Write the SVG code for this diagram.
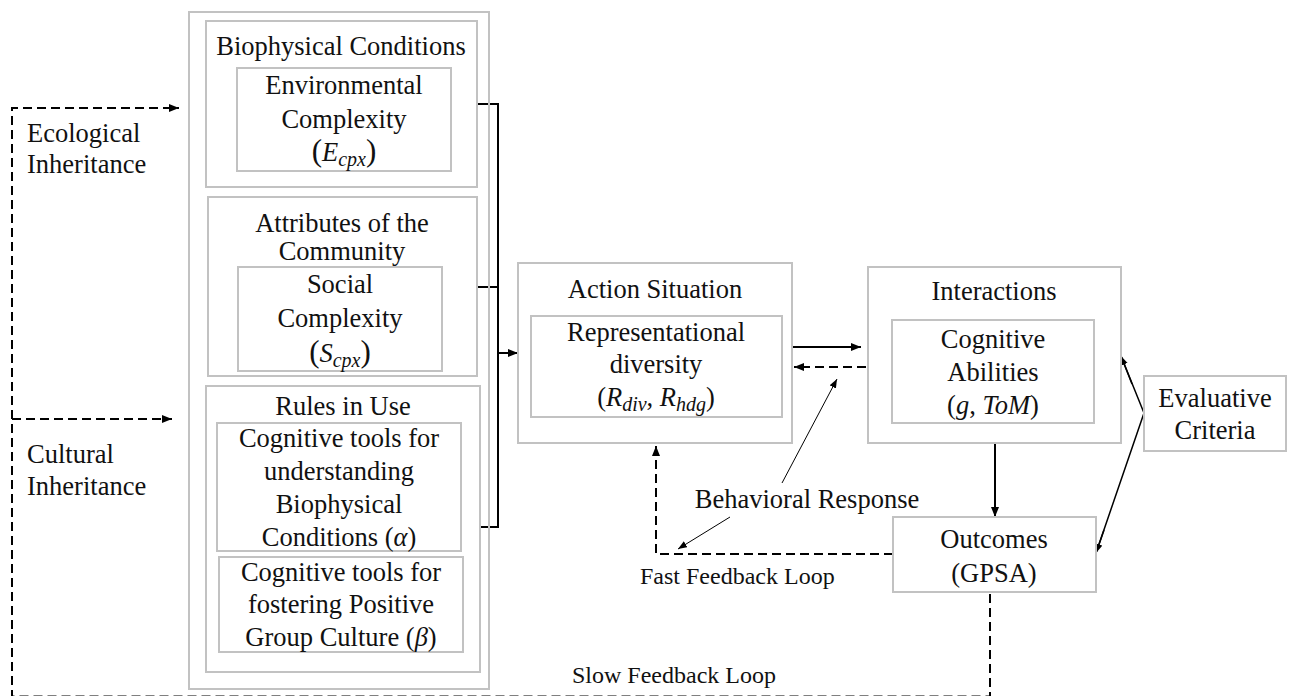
<svg xmlns="http://www.w3.org/2000/svg" width="1292" height="696" viewBox="0 0 1292 696">
<defs>
<style>
.box{fill:none;stroke:#c2c2c2;stroke-width:2}
.t{font-family:"Liberation Serif","Times New Roman",serif;font-size:26.5px;fill:#111;text-anchor:middle}
.tl{font-family:"Liberation Serif","Times New Roman",serif;font-size:26.5px;fill:#111}
.s{font-family:"Liberation Serif","Times New Roman",serif;font-size:24px;fill:#111}
.i{font-style:italic}
.sub{font-style:italic;font-size:20px}
.par{font-size:31px}
.ln{fill:none;stroke:#000;stroke-width:2}
.dash{fill:none;stroke:#000;stroke-width:2;stroke-dasharray:9 5}
.thin{fill:none;stroke:#000;stroke-width:1}
</style>
<marker id="ah" markerUnits="userSpaceOnUse" markerWidth="11" markerHeight="9" refX="10" refY="4" orient="auto"><path d="M0,0 L10,4 L0,8 z" fill="#000"/></marker>
<marker id="ahs" markerUnits="userSpaceOnUse" markerWidth="10" markerHeight="8" refX="9" refY="3.5" orient="auto"><path d="M0,0 L9,3.5 L0,7 z" fill="#000"/></marker>
</defs>

<g id="connectors">
<polyline class="ln" points="477,104 498,104 498,527 480,527"/>
<line class="ln" x1="477" y1="287" x2="498" y2="287"/>
<line class="ln" x1="498" y1="353" x2="518" y2="353" marker-end="url(#ah)"/>
<line class="ln" x1="793" y1="347" x2="861" y2="347" marker-end="url(#ah)"/>
<line class="dash" x1="866" y1="367" x2="794" y2="367" marker-end="url(#ah)"/>
<line class="ln" x1="995" y1="443" x2="995" y2="517" marker-end="url(#ah)"/>
<polyline class="thin" points="1121,356 1144,413 1096,553" style="stroke-width:1.5"/>
<line class="thin" x1="1132" y1="384" x2="1121" y2="356" style="stroke-width:1.5" marker-end="url(#ahs)"/>
<line class="thin" x1="1104" y1="530" x2="1096" y2="553" style="stroke-width:1.5" marker-end="url(#ahs)"/>
<polyline class="dash" points="893,554 656,554 656,446" marker-end="url(#ah)"/>
<line class="thin" x1="782" y1="483" x2="837" y2="379" marker-end="url(#ahs)"/>
<line class="thin" x1="730" y1="517" x2="678" y2="549" marker-end="url(#ahs)"/>
<polyline class="dash" points="990,594 990,696.5 12,696.5 12,108 179,108" marker-end="url(#ah)"/>
<line class="dash" x1="12" y1="419" x2="172" y2="419" marker-end="url(#ah)"/>
</g>

<g id="labels">
<text class="tl" x="27" y="142">Ecological</text>
<text class="tl" x="27" y="173">Inheritance</text>
<text class="tl" x="27" y="463">Cultural</text>
<text class="tl" x="27" y="495">Inheritance</text>
<text class="t" x="807" y="508">Behavioral Response</text>
<text class="s" x="640" y="584">Fast Feedback Loop</text>
<text class="s" x="572" y="683">Slow Feedback Loop</text>
</g>

<g id="context">
<rect class="box" x="189" y="12" width="300" height="677"/>
</g>

<g id="biophysical">
<rect class="box" x="206" y="21" width="271" height="166"/>
<text class="t" x="341" y="55">Biophysical Conditions</text>
</g>
<g id="env-complexity">
<rect class="box" x="237" y="68" width="214" height="103"/>
<text class="t" x="344" y="94">Environmental</text>
<text class="t" x="344" y="128">Complexity</text>
<text class="t" x="344" y="161"><tspan class="par">(</tspan><tspan class="i">E</tspan><tspan class="sub" dy="5">cpx</tspan><tspan class="par" dy="-5">)</tspan></text>
</g>

<g id="community">
<rect class="box" x="208" y="197" width="269" height="179"/>
<text class="t" x="342" y="232">Attributes of the</text>
<text class="t" x="342" y="260">Community</text>
</g>
<g id="social-complexity">
<rect class="box" x="238" y="267" width="204" height="104"/>
<text class="t" x="340" y="293">Social</text>
<text class="t" x="340" y="327">Complexity</text>
<text class="t" x="340" y="362"><tspan class="par">(</tspan><tspan class="i">S</tspan><tspan class="sub" dy="5">cpx</tspan><tspan class="par" dy="-5">)</tspan></text>
</g>

<g id="rules">
<rect class="box" x="206" y="386" width="274" height="286"/>
<text class="t" x="343" y="415">Rules in Use</text>
</g>
<g id="tools-alpha">
<rect class="box" x="217" y="423" width="244" height="128"/>
<text class="t" x="339" y="447">Cognitive tools for</text>
<text class="t" x="339" y="480">understanding</text>
<text class="t" x="339" y="513">Biophysical</text>
<text class="t" x="339" y="546">Conditions (<tspan class="i">α</tspan>)</text>
</g>
<g id="tools-beta">
<rect class="box" x="219" y="557" width="244" height="95"/>
<text class="t" x="341" y="581">Cognitive tools for</text>
<text class="t" x="341" y="613">fostering Positive</text>
<text class="t" x="341" y="646">Group Culture (<tspan class="i">β</tspan>)</text>
</g>

<g id="action-situation">
<rect class="box" x="518" y="263" width="274" height="180"/>
<text class="t" x="655" y="298">Action Situation</text>
</g>
<g id="representational">
<rect class="box" x="531" y="316" width="251" height="101"/>
<text class="t" x="656" y="341">Representational</text>
<text class="t" x="656" y="373">diversity</text>
<text class="t" x="656" y="406">(<tspan class="i">R</tspan><tspan class="sub" dy="5">div</tspan><tspan dy="-5">, </tspan><tspan class="i">R</tspan><tspan class="sub" dy="5">hdg</tspan><tspan dy="-5">)</tspan></text>
</g>

<g id="interactions">
<rect class="box" x="868" y="267" width="253" height="176"/>
<text class="t" x="994" y="300">Interactions</text>
</g>
<g id="cognitive-abilities">
<rect class="box" x="892" y="320" width="202" height="103"/>
<text class="t" x="993" y="348">Cognitive</text>
<text class="t" x="993" y="381">Abilities</text>
<text class="t" x="993" y="414">(<tspan class="i">g</tspan>, <tspan class="i">ToM</tspan>)</text>
</g>

<g id="evaluative">
<rect class="box" x="1144" y="376" width="142" height="75"/>
<text class="t" x="1215" y="407">Evaluative</text>
<text class="t" x="1215" y="439">Criteria</text>
</g>

<g id="outcomes">
<rect class="box" x="893" y="517" width="203" height="75"/>
<text class="t" x="994" y="548">Outcomes</text>
<text class="t" x="994" y="582">(GPSA)</text>
</g>
</svg>
